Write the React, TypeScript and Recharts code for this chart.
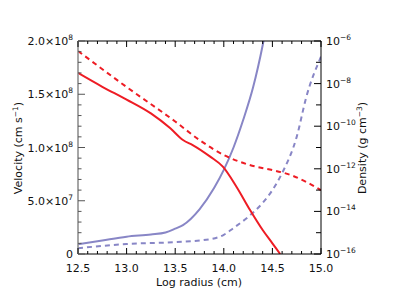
import React from 'react';
import { LineChart, Line, XAxis, YAxis } from 'recharts';

// log radius (cm) sample positions for each curve
const redSolidR = [12.5, 12.75, 13.0, 13.25, 13.45, 13.58, 13.68, 13.86, 13.99, 14.13, 14.27, 14.4, 14.5, 14.58];
const redSolidVel = [1.70e8, 1.57e8, 1.45e8, 1.32e8, 1.18e8, 1.07e8, 1.023e8, 0.914e8, 0.82e8, 0.632e8, 0.413e8, 0.225e8, 0.10e8, 0];

const purpleSolidR = [12.5, 12.75, 13.0, 13.25, 13.4, 13.5, 13.58, 13.75, 13.9, 14.0, 14.1, 14.2, 14.3, 14.4, 14.45];
const purpleSolidVel = [0.091e8, 0.127e8, 0.162e8, 0.183e8, 0.202e8, 0.238e8, 0.272e8, 0.42e8, 0.62e8, 0.79e8, 1.0e8, 1.26e8, 1.56e8, 1.96e8, 2.2e8];

const redDashR = [12.5, 13.0, 13.5, 13.75, 14.0, 14.25, 14.5, 14.6, 14.7, 14.85, 15.0];
const redDashLogRho = [-6.47, -8.16, -9.78, -10.65, -11.35, -11.8, -12.06, -12.17, -12.31, -12.62, -13.0];

const purpleDashR = [12.5, 13.0, 13.5, 13.85, 14.0, 14.1, 14.25, 14.4, 14.5, 14.6, 14.75, 14.85, 15.0];
const purpleDashLogRho = [-15.73, -15.53, -15.44, -15.31, -15.1, -14.78, -14.26, -13.6, -13.0, -12.2, -10.5, -8.61, -6.74];

const radiusTicks = [12.5, 13.0, 13.5, 14.0, 14.5, 15.0];
const velTicks = [0, 5e7, 1e8, 1.5e8, 2e8];
const velTickLabels = [['0', ''], ['5.0×10', '7'], ['1.0×10', '8'], ['1.5×10', '8'], ['2.0×10', '8']];
const rhoTicks = [-16, -14, -12, -10, -8, -6];

const RED = '#ee1c24';
const PURPLE = '#8886c6';
const FONT = 'DejaVu Sans';
const FS = 11;
const SUP = 7.5;

const zip = (xs: number[], ys: number[], key: string) => xs.map((r, i) => ({ r, [key]: ys[i] }));

const minorR: number[] = [];
for (let i = 0; i <= 25; i++) minorR.push(Math.round((12.5 + i * 0.1) * 10) / 10);
const minorV: number[] = [];
for (let i = 0; i <= 20; i++) minorV.push(i * 1e7);
const minorRho: number[] = [];
for (let i = -16; i <= -6; i++) minorRho.push(i);

const isMajorR = (v: number) => radiusTicks.some((t) => Math.abs(t - v) < 1e-6);

const BottomTick = (p: any) => {
  const { x, y, payload } = p;
  const major = isMajorR(payload.value);
  return (
    <g>
      <line x1={x} x2={x} y1={y} y2={y - (major ? 6 : 3)} stroke="#000" />
      {major && (
        <text x={x} y={y + 18} textAnchor="middle" fontSize={FS} fontFamily={FONT} fill="#111">
          {payload.value.toFixed(1)}
        </text>
      )}
    </g>
  );
};

const TopTick = (p: any) => {
  const { x, y, payload } = p;
  const major = isMajorR(payload.value);
  return <line x1={x} x2={x} y1={y} y2={y + (major ? 6 : 3)} stroke="#000" />;
};

const LeftTick = (p: any) => {
  const { x, y, payload } = p;
  const idx = velTicks.indexOf(payload.value);
  const major = idx >= 0;
  return (
    <g>
      <line x1={x} x2={x + (major ? 7 : 3.5)} y1={y} y2={y} stroke="#555" />
      {major && (
        <text x={x - 5} y={y + 4} textAnchor="end" fontSize={FS} fontFamily={FONT} fill="#111">
          <tspan>{velTickLabels[idx][0]}</tspan>
          {velTickLabels[idx][1] && (
            <tspan dy={-5} fontSize={SUP}>
              {velTickLabels[idx][1]}
            </tspan>
          )}
        </text>
      )}
    </g>
  );
};

const RightTick = (p: any) => {
  const { x, y, payload } = p;
  const major = rhoTicks.includes(payload.value);
  return (
    <g>
      <line x1={x} x2={x - (major ? 7 : 5)} y1={y} y2={y} stroke="#000" />
      {major && (
        <text x={x + 5} y={y + 4} textAnchor="start" fontSize={FS} fontFamily={FONT} fill="#111">
          <tspan>10</tspan>
          <tspan dy={-5} fontSize={SUP}>
            {'−' + Math.abs(payload.value)}
          </tspan>
        </text>
      )}
    </g>
  );
};

export default function App() {
  return (
    <div style={{ position: 'absolute', left: 0, top: 0, width: 399, height: 308, background: '#fff' }}>
      <LineChart width={399} height={308} margin={{ top: 40, right: 0, bottom: 0, left: 0 }}>
        <XAxis
          xAxisId="b"
          dataKey="r"
          type="number"
          domain={[12.5, 15]}
          ticks={minorR}
          interval={0}
          height={54}
          tickSize={0}
          tickMargin={0}
          tick={<BottomTick />}
          axisLine={{ stroke: '#000' }}
          allowDataOverflow
        />
        <XAxis
          xAxisId="t"
          orientation="top"
          dataKey="r"
          type="number"
          domain={[12.5, 15]}
          ticks={minorR}
          interval={0}
          height={1}
          tickSize={0}
          tickMargin={0}
          tick={<TopTick />}
          axisLine={{ stroke: '#000' }}
          allowDataOverflow
        />
        <YAxis
          yAxisId="v"
          type="number"
          domain={[0, 2e8]}
          ticks={minorV}
          interval={0}
          width={78}
          tickSize={0}
          tickMargin={0}
          tick={<LeftTick />}
          axisLine={{ stroke: '#888', strokeWidth: 1.5 }}
          allowDataOverflow
        />
        <YAxis
          yAxisId="rho"
          orientation="right"
          type="number"
          domain={[-16, -6]}
          ticks={minorRho}
          interval={0}
          width={78}
          tickSize={0}
          tickMargin={0}
          tick={<RightTick />}
          axisLine={{ stroke: '#000' }}
          allowDataOverflow
        />
        <Line
          xAxisId="t"
          yAxisId="v"
          data={zip(purpleSolidR, purpleSolidVel, 'vel')}
          dataKey="vel"
          type="monotone"
          stroke={PURPLE}
          strokeWidth={2}
          dot={false}
          isAnimationActive={false}
        />
        <Line
          xAxisId="b"
          yAxisId="rho"
          data={zip(purpleDashR, purpleDashLogRho, 'rho')}
          dataKey="rho"
          type="monotone"
          stroke={PURPLE}
          strokeWidth={2}
          strokeDasharray="5 4"
          dot={false}
          isAnimationActive={false}
        />
        <Line
          xAxisId="t"
          yAxisId="v"
          data={zip(redSolidR, redSolidVel, 'vel')}
          dataKey="vel"
          type="monotone"
          stroke={RED}
          strokeWidth={2}
          dot={false}
          isAnimationActive={false}
        />
        <Line
          xAxisId="b"
          yAxisId="rho"
          data={zip(redDashR, redDashLogRho, 'rho')}
          dataKey="rho"
          type="monotone"
          stroke={RED}
          strokeWidth={2}
          strokeDasharray="5 4"
          dot={false}
          isAnimationActive={false}
        />
        <text x={199} y={286} textAnchor="middle" fontSize={FS} fontFamily={FONT} fill="#111">
          Log radius (cm)
        </text>
        <text
          x={22}
          y={148}
          textAnchor="middle"
          fontSize={FS}
          fontFamily={FONT}
          fill="#111"
          transform="rotate(-90 22 148)"
        >
          <tspan>Velocity (cm s</tspan>
          <tspan dy={-4} fontSize={SUP}>−1</tspan>
          <tspan dy={4}>)</tspan>
        </text>
        <text
          x={366}
          y={148}
          textAnchor="middle"
          fontSize={FS}
          fontFamily={FONT}
          fill="#111"
          transform="rotate(-90 366 148)"
        >
          <tspan>Density (g cm</tspan>
          <tspan dy={-4} fontSize={SUP}>−3</tspan>
          <tspan dy={4}>)</tspan>
        </text>
      </LineChart>
    </div>
  );
}
